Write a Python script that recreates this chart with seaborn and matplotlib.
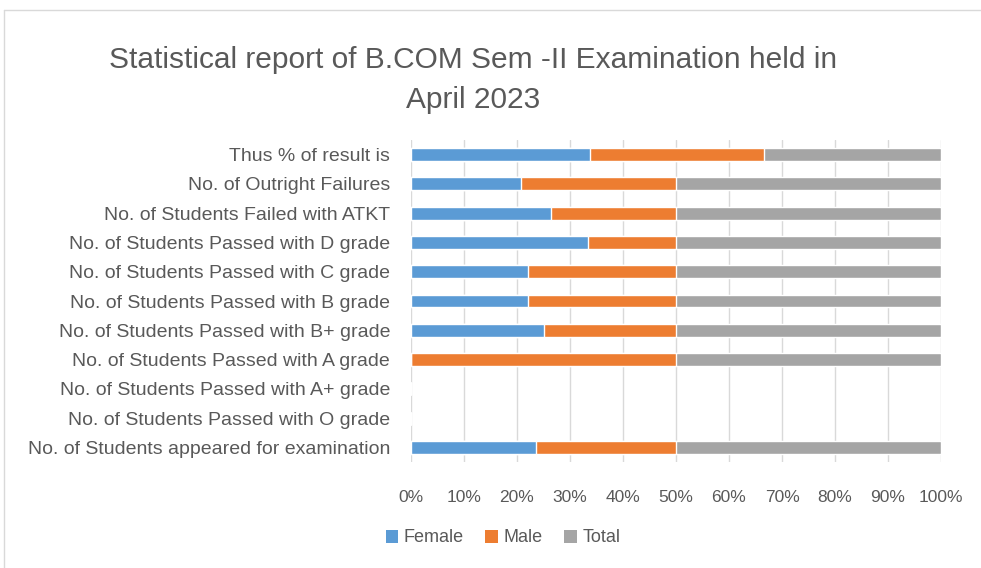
import matplotlib
matplotlib.use("Agg")
import matplotlib.pyplot as plt
import seaborn as sns
import pandas as pd
from matplotlib.patches import Patch
from matplotlib.lines import Line2D

categories = [
    "Thus % of result is",
    "No. of Outright Failures",
    "No. of Students Failed with ATKT",
    "No. of Students Passed with D grade",
    "No. of Students Passed with C grade",
    "No. of Students Passed with B grade",
    "No. of Students Passed with B+ grade",
    "No. of Students Passed with A grade",
    "No. of Students Passed with A+ grade",
    "No. of Students Passed with O grade",
    "No. of Students appeared for examination",
]
female = [75.61, 5, 9, 2, 15, 15, 10, 0, 0, 0, 41]
male = [73.08, 7, 8, 1, 19, 19, 10, 2, 0, 0, 46]
total = [74.71, 12, 17, 3, 34, 34, 20, 2, 0, 0, 87]

series = ["Female", "Male", "Total"]
colors = {"Female": "#5B9BD5", "Male": "#ED7D31", "Total": "#A5A5A5"}
txt = "#595959"

df = pd.DataFrame({"cat": categories, "Female": female, "Male": male, "Total": total})
s = df[series].sum(axis=1)
pct = df[series].div(s.where(s > 0), axis=0).fillna(0) * 100
df["cum_Female"] = pct["Female"]
df["cum_Male"] = pct["Female"] + pct["Male"]
df["cum_Total"] = pct["Female"] + pct["Male"] + pct["Total"]

sns.set_style("white")
plt.rcParams["font.family"] = ["Liberation Sans", "DejaVu Sans"]

fig = plt.figure(figsize=(9.81, 5.68), dpi=100)
ax = fig.add_axes([411 / 981, 1 - 462 / 568, 530 / 981, 322 / 568])

# draw back to front so the cumulative bars stack visually
for name in ["Total", "Male", "Female"]:
    sns.barplot(data=df, x="cum_" + name, y="cat", order=categories,
                color=colors[name], width=0.44, saturation=1, ax=ax, zorder=3)

ax.set_xlim(0, 100)
ax.set_xticks(range(0, 101, 10))
ax.set_xticklabels([f"{v}%" for v in range(0, 101, 10)])
ax.set_xlabel("")
ax.set_ylabel("")
ax.grid(axis="x", color="#D9D9D9", lw=1, zorder=0)
ax.grid(axis="y", visible=False)
for sp in ax.spines.values():
    sp.set_visible(False)
ax.tick_params(axis="both", length=0, labelcolor=txt)
ax.tick_params(axis="x", pad=20, labelsize=12.5)
ax.tick_params(axis="y", pad=15, labelsize=14)

fig.text(473 / 981, 1 - 80 / 568, "Statistical report of B.COM Sem -II Examination held in\nApril 2023",
         ha="center", va="center", fontsize=21.5, color=txt, linespacing=1.5)

handles = [Patch(facecolor=colors[n], edgecolor="none") for n in series]
fig.legend(handles, series, loc="center", bbox_to_anchor=(503 / 981, 1 - 538 / 568),
           ncol=3, frameon=False, fontsize=13, labelcolor=txt,
           handlelength=0.7, handleheight=0.7, handletextpad=0.3, columnspacing=1.2)

# chart area border
fig.add_artist(Line2D([4 / 981, 4 / 981], [0, 1 - 10 / 568], transform=fig.transFigure, color="#D9D9D9", lw=1))
fig.add_artist(Line2D([4 / 981, 1], [1 - 10 / 568, 1 - 10 / 568], transform=fig.transFigure, color="#D9D9D9", lw=1))

fig.savefig("out.png", dpi=100)
